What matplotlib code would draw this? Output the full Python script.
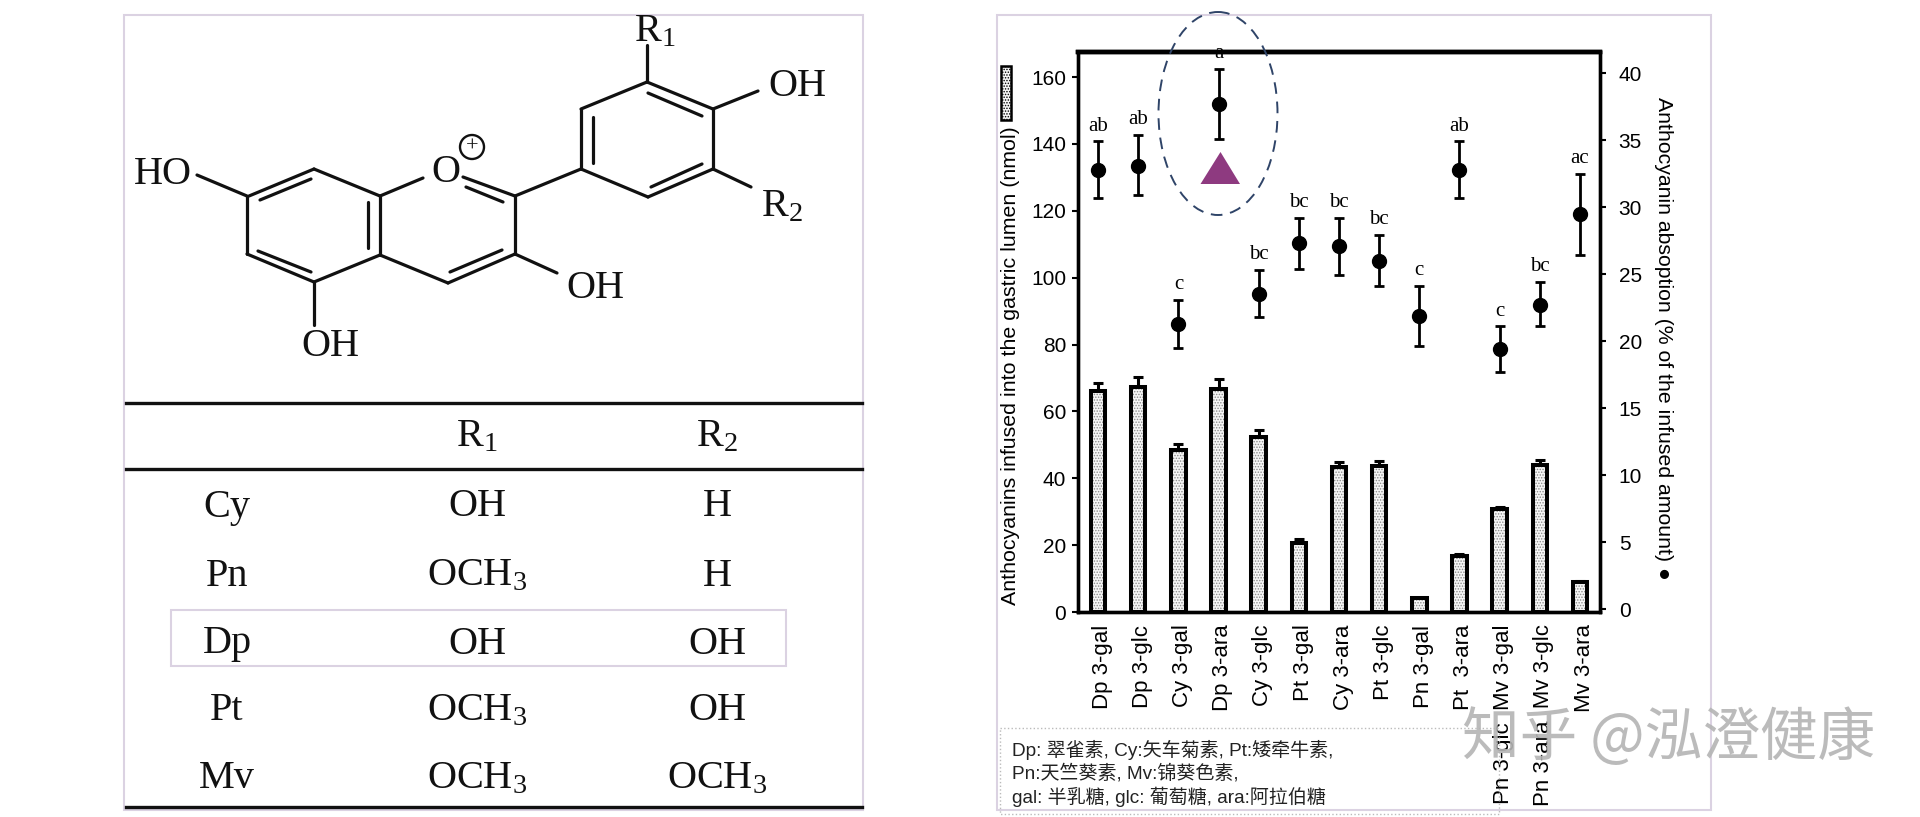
import matplotlib
matplotlib.use("Agg")
import matplotlib.pyplot as plt
from matplotlib.patches import Ellipse, Polygon, Rectangle, Circle
from matplotlib.transforms import ScaledTranslation

plt.rcParams['font.family'] = ['Liberation Sans', 'Noto Sans CJK SC', 'DejaVu Sans']
plt.rcParams['mathtext.default'] = 'regular'
plt.rcParams['hatch.linewidth'] = 0.7

# chart data
labels = ["Dp 3-gal", "Dp 3-glc", "Cy 3-gal", "Dp 3-ara", "Cy 3-glc", "Pt 3-gal", "Cy 3-ara",
          "Pt 3-glc", "Pn 3-gal", "Pt  3-ara", "Pn 3-glc  Mv 3-gal", "Pn 3-ara  Mv 3-glc", "Mv 3-ara"]
infused = [66.2, 67.4, 48.4, 66.7, 52.4, 20.7, 43.3, 43.6, 4.1, 16.7, 30.7, 44.0, 9.0]
infused_top = [68.6, 70.2, 50.2, 69.6, 54.4, 21.7, 44.8, 45.2, 4.2, 17.3, 31.5, 45.6, 9.2]
absorption = [32.8, 33.1, 21.3, 37.7, 23.5, 27.3, 27.1, 26.0, 21.9, 32.8, 19.4, 22.7, 29.5]
absorption_low = [30.7, 30.9, 19.5, 35.1, 21.8, 25.4, 24.9, 24.1, 19.6, 30.7, 17.7, 21.1, 26.4]
absorption_high = [34.9, 35.4, 23.1, 40.3, 25.3, 29.2, 29.2, 27.9, 24.1, 34.9, 21.1, 24.4, 32.5]
letters = ["ab", "ab", "c", "a", "bc", "bc", "bc", "bc", "c", "ab", "c", "bc", "ac"]
left_ticks = [0, 20, 40, 60, 80, 100, 120, 140, 160]
right_ticks = [0, 5, 10, 15, 20, 25, 30, 35, 40]

# substituent table
table_names = ["Cy", "Pn", "Dp", "Pt", "Mv"]
table_r1 = ["OH", "OCH$_3$", "OH", "OCH$_3$", "OCH$_3$"]
table_r2 = ["H", "H", "OH", "OH", "OCH$_3$"]
table_rows_y = [507, 576, 644, 711, 779]

note_lines = ["Dp: 翠雀素, Cy:矢车菊素, Pt:矮牵牛素,", "Pn:天竺葵素, Mv:锦葵色素,", "gal: 半乳糖, glc: 葡萄糖, ara:阿拉伯糖"]

# structure drawing, in pixels
bonds = [
    (249, 196, 314, 169), (314, 169, 380, 196), (380, 196, 380, 255), (380, 255, 314, 282),
    (314, 282, 247, 254), (247, 254, 247, 196),
    (260, 200, 311, 179), (368, 202, 368, 248), (258, 251, 311, 272),
    (380, 196, 423, 178), (463, 177, 515, 196), (466, 187, 503, 202),
    (515, 196, 515, 254), (515, 254, 448, 283), (450, 272, 502, 250), (448, 283, 380, 255),
    (515, 196, 581, 169), (581, 169, 581, 109), (581, 109, 647, 82), (647, 82, 713, 109),
    (713, 109, 713, 169), (713, 169, 648, 197), (648, 197, 581, 169),
    (593, 117, 593, 163), (648, 93, 702, 116), (651, 187, 702, 164),
    (647, 82, 647, 45), (713, 109, 758, 91), (713, 169, 751, 187), (515, 254, 557, 273),
    (314, 282, 314, 325), (247, 196, 197, 175),
]
atoms = [("HO", 163, 174), ("O", 446, 172), ("R$_1$", 655, 32), ("OH", 797, 86),
         ("R$_2$", 782, 207), ("OH", 595, 288), ("OH", 330, 346)]

fig = plt.figure(figsize=(19.2, 8.17), dpi=100)

# axes box from 1078..1600 px, 52..612 px
ax = fig.add_axes([1078/1920, 1 - 612/817, 522/1920, 560/817])
x = list(range(len(labels)))
ax.bar(x, infused, width=0.36, color="#f6f6f6", edgecolor="#8a8a8a", hatch="......", linewidth=0, zorder=2)
ax.bar(x, infused, width=0.36, fill=False, edgecolor="black", linewidth=2.9, zorder=3)
ax.errorbar(x, infused, yerr=[[0]*len(x), [t - v for t, v in zip(infused_top, infused)]], fmt="none",
            ecolor="black", elinewidth=2.2, capsize=3.5, capthick=2.2, zorder=1)
ax.set_xlim(-0.5, 12.5)
ax.set_ylim(0, 167.5)
ax.set_xticks(x)
ax.set_xticklabels(labels, rotation=90, fontsize=16)
ax.tick_params(axis="x", length=0, pad=9)
for lab in ax.get_xticklabels():
    lab.set_transform(lab.get_transform() + ScaledTranslation(3/72, 0, fig.dpi_scale_trans))
ax.set_yticks(left_ticks)
ax.tick_params(axis="y", labelsize=15, length=4.5, width=1.5, pad=4)

ax2 = ax.twinx()
ax2.errorbar(x, absorption,
             yerr=[[v - l for v, l in zip(absorption, absorption_low)],
                   [h - v for h, v in zip(absorption_high, absorption)]],
             fmt="o", color="black", markersize=10, elinewidth=2, capsize=3.8, capthick=2)
ax2.set_ylim(-0.22, 41.57)
ax2.set_yticks(right_ticks)
ax2.tick_params(axis="y", labelsize=15, length=4.5, width=1.5, pad=9)
for i, s in enumerate(letters):
    ax2.annotate(s, (x[i], absorption_high[i]), xytext=(0, 11), textcoords="offset points",
                 ha="center", va="center", fontsize=15, family="Liberation Serif")
for a in (ax, ax2):
    for side in a.spines:
        a.spines[side].set_linewidth(2.4)
    a.spines["top"].set_linewidth(3.2)

# overlay in pixel coordinates for the diagram, table and notes
ov = fig.add_axes([0, 0, 1, 1], zorder=5)
ov.set_xlim(0, 1920)
ov.set_ylim(817, 0)
ov.axis("off")
ov.patch.set_alpha(0)

frame = "#dbd2e2"
ov.add_patch(Rectangle((124, 15), 739, 795, fill=False, edgecolor=frame, linewidth=1.5))
ov.add_patch(Rectangle((997, 15), 714, 795, fill=False, edgecolor=frame, linewidth=1.5))

for b in bonds:
    ov.plot([b[0], b[2]], [b[1], b[3]], color="#111111", linewidth=2.3, solid_capstyle="round")
for s, px, py in atoms:
    ov.text(px, py, s, ha="center", va="center", family="Liberation Serif", fontsize=29, color="#111111")
ov.add_patch(Circle((472, 147), 12, fill=False, edgecolor="#111111", linewidth=1.7))
ov.text(472, 147, "+", ha="center", va="center", family="Liberation Serif", fontsize=16, color="#111111")

for ly in (403, 469, 807):
    ov.plot([126, 862], [ly, ly], color="#111111", linewidth=2.4)
ov.text(477, 437, "R$_1$", ha="center", va="center", family="Liberation Serif", fontsize=29, color="#111111")
ov.text(717, 437, "R$_2$", ha="center", va="center", family="Liberation Serif", fontsize=29, color="#111111")
for name, r1, r2, ry in zip(table_names, table_r1, table_r2, table_rows_y):
    ov.text(227, ry, name, ha="center", va="center", family="Liberation Serif", fontsize=29, color="#111111")
    ov.text(477, ry, r1, ha="center", va="center", family="Liberation Serif", fontsize=29, color="#111111")
    ov.text(717, ry, r2, ha="center", va="center", family="Liberation Serif", fontsize=29, color="#111111")
ov.add_patch(Rectangle((171, 610), 615, 56, fill=False, edgecolor=frame, linewidth=1.5))

# axis titles and the bar key
ov.text(1010, 366, "Anthocyanins infused into the gastric lumen (nmol)", rotation=90,
        ha="center", va="center", fontsize=15.4)
ov.text(1663, 338, "Anthocyanin absoption (% of the infused amount) ●", rotation=270,
        ha="center", va="center", fontsize=15.3)
ov.add_patch(Rectangle((1001, 66), 10, 54, facecolor="#f6f6f6", edgecolor="black",
                       hatch="......", linewidth=1.8))

# highlight
ov.add_patch(Ellipse((1218, 113.5), 119, 203, fill=False, edgecolor="#2f4468", linewidth=1.4,
                     linestyle=(0, (6, 4))))
ov.add_patch(Polygon([(1220.5, 152), (1200.5, 184), (1240, 184)], facecolor="#8e3a80", edgecolor="none"))

# note box
ov.add_patch(Rectangle((1000, 728), 499, 86, fill=False, edgecolor="#bbbbbb", linewidth=1, linestyle=":"))
for line, ny in zip(note_lines, (750, 773, 797)):
    ov.text(1012, ny, line, ha="left", va="center", fontsize=13.7, color="#222222")

# watermark
ov.text(1462, 739, "知乎 @泓澄健康", ha="left", va="center", fontsize=41.5, color="#b4b4b4", alpha=0.9,
        family=["Noto Sans CJK SC", "DejaVu Sans"])

fig.savefig("out.png", dpi=100)
